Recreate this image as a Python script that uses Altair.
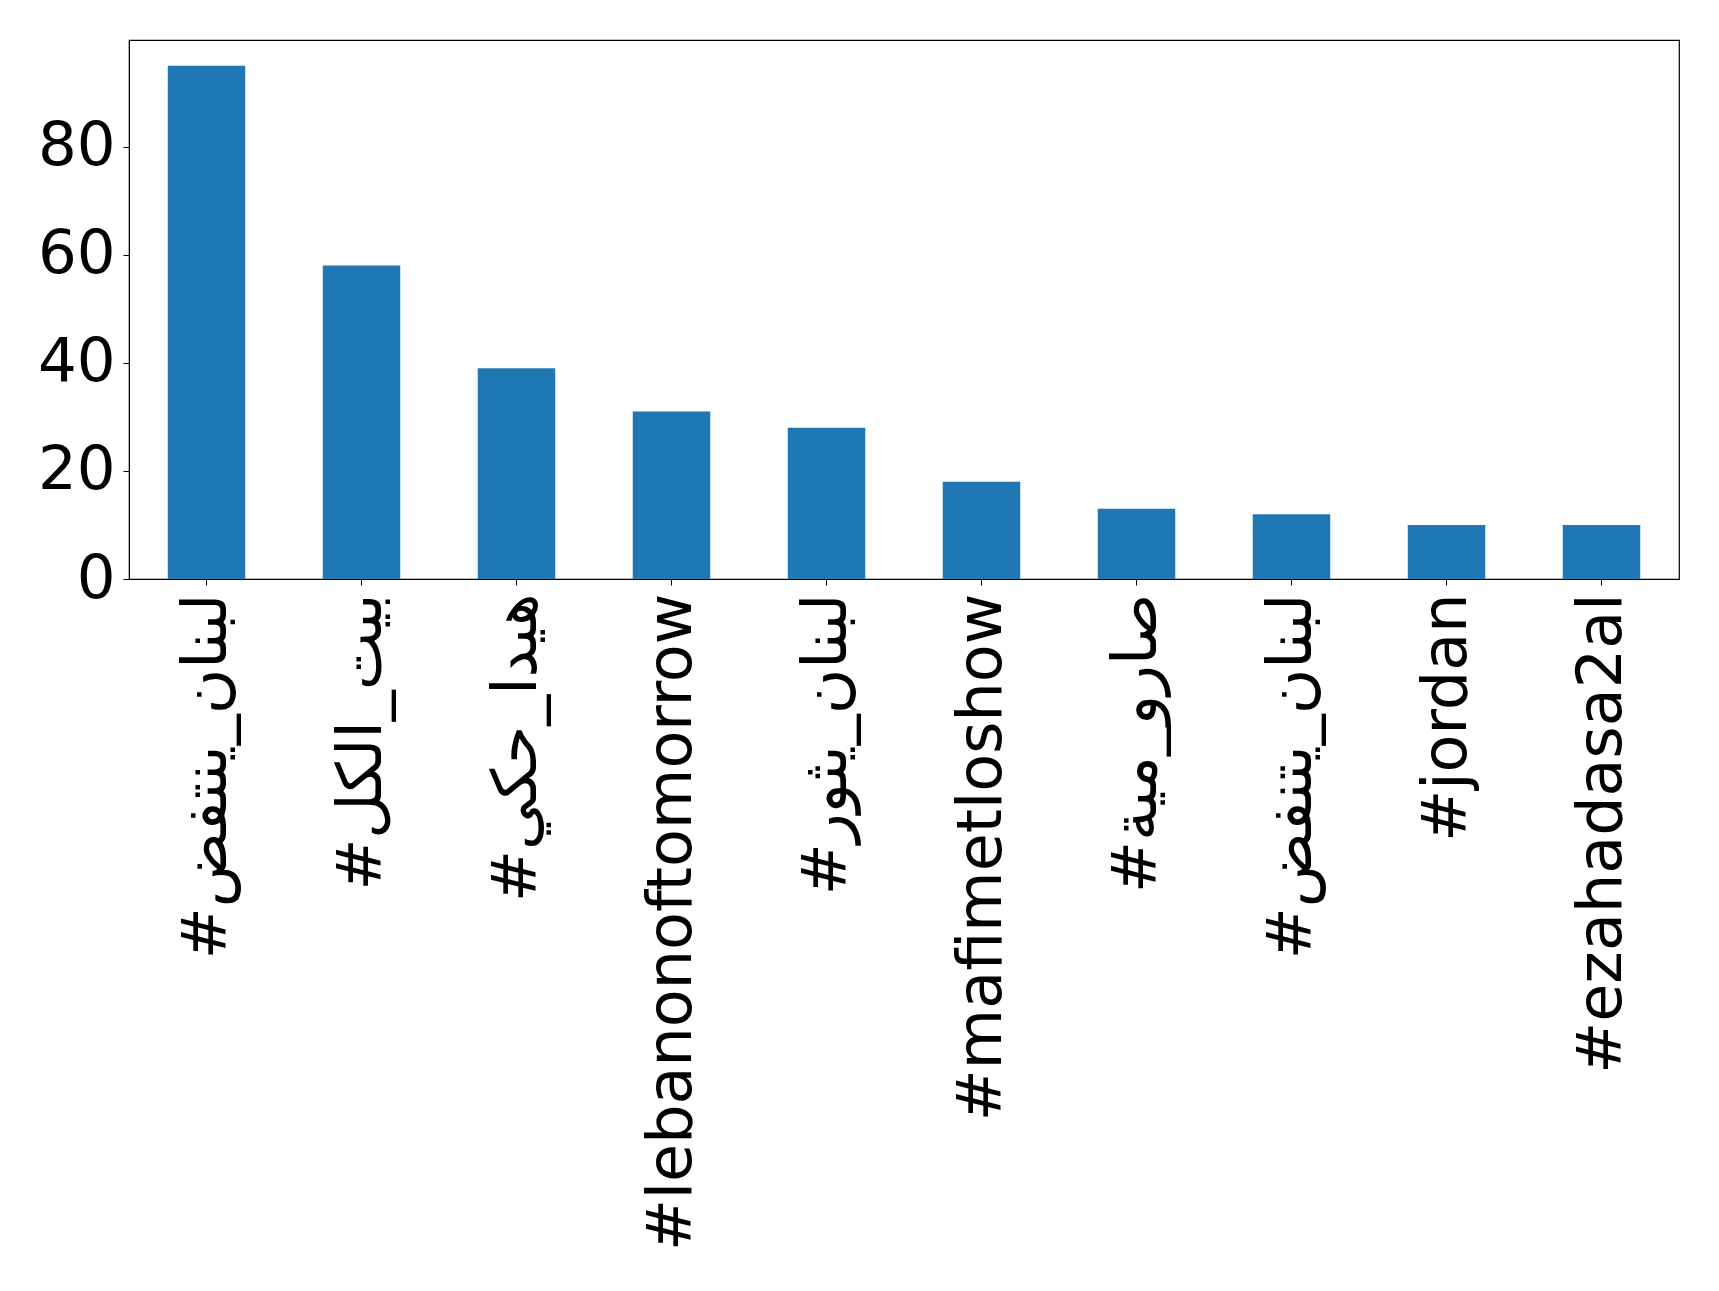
import altair as alt
import pandas as pd

hashtags = [
    "#لبنان_ينتفض",
    "#بيت_الكل",
    "#هيدا_حكي",
    "#lebanonoftomorrow",
    "#لبنان_يثور",
    "#mafimetloshow",
    "#صارو_مية",
    "#لبنان_يتنفض",
    "#jordan",
    "#ezahadasa2al",
]
counts = [95, 58, 39, 31, 28, 18, 13, 12, 10, 10]

df = pd.DataFrame({"hashtag": hashtags, "count": counts})

chart = (
    alt.Chart(df)
    .mark_bar(color="#1f77b4")
    .encode(
        x=alt.X(
            "hashtag:N",
            sort=hashtags,
            title=None,
            scale=alt.Scale(paddingInner=0.5, paddingOuter=0.25),
            axis=alt.Axis(
                labelAngle=-90,
                labelFontSize=62,
                labelFont="DejaVu Sans",
                labelColor="black",
                labelPadding=8,
                tickSize=6,
                tickColor="black",
                domainColor="black",
                labelLimit=1000,
            ),
        ),
        y=alt.Y(
            "count:Q",
            title=None,
            scale=alt.Scale(domain=[0, 99.75], nice=False),
            axis=alt.Axis(
                values=[0, 20, 40, 60, 80],
                labelFontSize=61,
                labelFont="DejaVu Sans",
                labelColor="black",
                labelPadding=8,
                tickSize=6,
                tickColor="black",
                domainColor="black",
                grid=False,
            ),
        ),
    )
    .properties(
        width=1550,
        height=539,
        autosize=alt.AutoSizeParams(type="none"),
        padding={"left": 121, "top": 32, "right": 30, "bottom": 700},
    )
    .configure(background="white")
    .configure_view(stroke="black", strokeWidth=1.2)
)

chart.save("out.html", embed_options={"renderer": "svg", "actions": False})
